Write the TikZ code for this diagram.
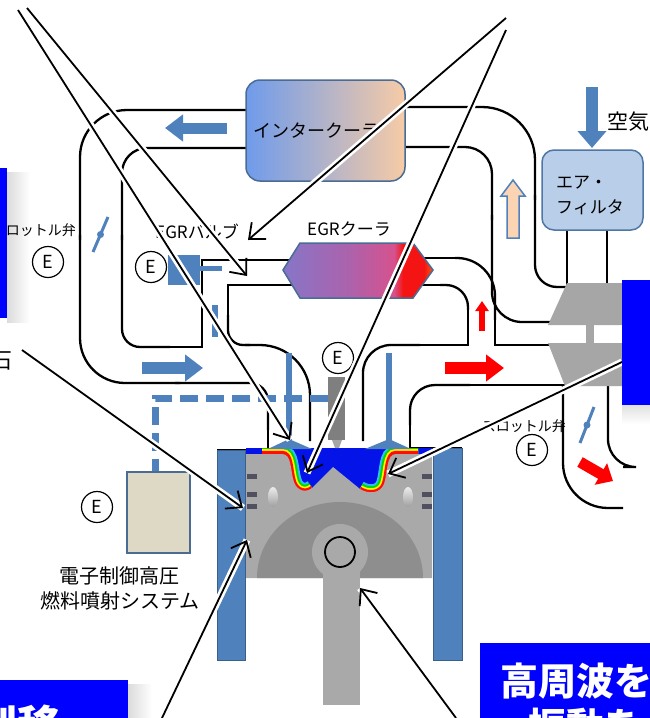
\documentclass[tikz,border=0pt]{standalone}
\usepackage{fontspec}
\setmainfont{Noto Sans CJK JP}
\usetikzlibrary{arrows.meta}
\definecolor{flowblue}{HTML}{4F81BD}
\definecolor{wallblue}{HTML}{3B5F8C}
\definecolor{boxblue}{HTML}{0000FF}
\definecolor{boxedge}{HTML}{4A6C94}
\definecolor{icleft}{HTML}{6F9BEB}
\definecolor{icright}{HTML}{F7CBA6}
\definecolor{filterfill}{HTML}{B9CEE8}
\definecolor{filteredge}{HTML}{4F77A6}
\definecolor{turbogray}{HTML}{A6A6A6}
\definecolor{pistongray}{HTML}{A9A9A9}
\definecolor{diskgray}{HTML}{8E8E8E}
\definecolor{injgray}{HTML}{7F7F7F}
\definecolor{ringgray}{HTML}{505060}
\definecolor{fuelfill}{HTML}{DDD9C4}
\definecolor{peach}{HTML}{FBD4B4}
\definecolor{chamber}{HTML}{0414E8}
\definecolor{egrA}{HTML}{8676C8}
\definecolor{egrB}{HTML}{AC62AC}
\definecolor{egrC}{HTML}{D6528E}
\definecolor{egrD}{HTML}{F41414}
\definecolor{egrE}{HTML}{FF5A10}
\pgfdeclarehorizontalshading{egrshade}{100bp}{color(0bp)=(egrA); color(25bp)=(egrA); color(47bp)=(egrB); color(62bp)=(egrC); color(65bp)=(egrD); color(72bp)=(egrD); color(75bp)=(egrE); color(100bp)=(egrE)}
\begin{document}
\begin{tikzpicture}[x=1pt,y=-1pt,
  pipe/.style={line width=2.3pt},
  note/.style={line width=1.8pt, -{Straight Barb[length=13pt,width=22pt,line width=1.8pt]}, preaction={draw=white, line width=7pt, -}},
  enode/.style={circle, draw, line width=1.2pt, minimum size=31pt, inner sep=0pt, font=\fontsize{18}{18}\selectfont},
  lbl/.style={inner sep=0pt, font=\fontsize{17}{20}\selectfont},
  bigw/.style={inner sep=0pt, text=white, font=\fontsize{38}{40}\selectfont\bfseries},
]
\useasboundingbox (0,0) rectangle (650,718);
\clip (0,0) rectangle (650,718);
\fill[white] (0,0) rectangle (650,718);

% ---------- soft shadows of the highlighted panels
\shade[left color=black!14, right color=white] (7,172) rectangle (30,322);
\shade[top color=black!12, bottom color=white] (622,405) rectangle (650,424);
\shade[left color=black!14, right color=white] (128,684) rectangle (152,718);

% ---------- intake loop (intercooler -> throttle -> manifold)
\draw[pipe, rounded corners=47pt] (246,110) -- (80,110) -- (80,240);
\draw[pipe, rounded corners=45pt] (80,235) -- (80,383) -- (180,383);
\draw[pipe, rounded corners=18pt] (175,383) -- (268,383) -- (268,430);
\draw[pipe] (268,425) -- (268,450) -- (217,450);
\draw[pipe, rounded corners=25pt] (246,148) -- (122,148) -- (122,240);
\draw[pipe, rounded corners=18pt] (122,235) -- (122,347) -- (170,347);
\draw[pipe] (165,347) -- (202,347) -- (202,260) -- (292,260);
% EGR return into the intake port
\draw[pipe] (292,285) -- (228,285) -- (228,320);
\draw[pipe, rounded corners=15pt] (228,315) -- (228,345) -- (250,345);
\draw[pipe, rounded corners=50pt] (245,345) -- (310,345) -- (310,441);

% ---------- exhaust side
\draw[pipe, rounded corners=28pt] (363,441) -- (363,345) -- (420,345);
\draw[pipe] (415,345) -- (468,345) -- (468,305);
\draw[pipe, rounded corners=22pt] (468,310) -- (468,285) -- (440,285);
\draw[pipe] (445,285) -- (420,285);
\draw[pipe] (422,258) -- (460,258);
\draw[pipe, rounded corners=38pt] (455,258) -- (495,258) -- (495,320);
\draw[pipe] (495,315) -- (495,345) -- (552,345);
\draw[pipe] (462,448) -- (410,448) -- (410,420);
\draw[pipe, rounded corners=25pt] (410,425) -- (410,385) -- (470,385);
\draw[pipe] (465,385) -- (566,385);
\draw[pipe, rounded corners=45pt] (563,385) -- (563,508) -- (623,508);
\draw[pipe, rounded corners=28pt] (608,385) -- (608,467) -- (623,467);

% ---------- compressor -> intercooler
\draw[pipe, rounded corners=53pt] (405,107) -- (535,107) -- (535,200);
\draw[pipe, rounded corners=22pt] (535,195) -- (535,287) -- (566,287);
\draw[pipe, rounded corners=27pt] (405,147) -- (492,147) -- (492,220);
\draw[pipe, rounded corners=30pt] (492,215) -- (492,322) -- (552,322);
\draw[pipe] (567,230) -- (567,285);
\draw[pipe] (607,230) -- (607,285);

% ---------- turbocharger
\fill[turbogray] (567,283) -- (625,283) -- (645,325) -- (548,325) -- cycle;
\fill[turbogray] (586,324) rectangle (594,344);
\fill[turbogray] (548,343) -- (645,343) -- (625,386) -- (565,386) -- cycle;

% ---------- coolers and filter
\node[draw=boxedge, line width=1.5pt, rounded corners=14pt, left color=icleft, right color=icright, minimum width=159pt, minimum height=101pt] (ic) at (325.5,130.5) {};
\node[draw=filteredge, fill=filterfill, line width=1.5pt, rounded corners=12pt, minimum width=101pt, minimum height=80pt] (filter) at (592.5,190) {};
\shadedraw[shading=egrshade, draw=boxedge, line width=1.5pt] (283,270) -- (300,243) -- (413,243) -- (433,270) -- (413,298) -- (300,298) -- cycle;

% ---------- EGR valve
\fill[flowblue] (168,255) rectangle (200,285);
\fill[flowblue] (200,266) rectangle (222,271);
\fill[flowblue] (212,305) rectangle (218,337);

% ---------- throttle valves
\draw[flowblue, line width=3pt] (93,252) -- (108,217);
\fill[flowblue] (100.5,234.5) circle[radius=3.5pt];
\draw[flowblue, line width=3pt] (580,443) -- (594,407);
\fill[flowblue] (587,425) circle[radius=3.5pt];

% ---------- cylinder
\filldraw[fill=flowblue, draw=wallblue, line width=1pt] (217,450) rectangle (245,660);
\filldraw[fill=flowblue, draw=wallblue, line width=1pt] (433,448) rectangle (462,660);
\fill[chamber] (246,448) rectangle (432,500);
\begin{scope}
  \clip (246,448) rectangle (432,500);
  \foreach \w/\c in {16/cyan!80!white, 12/green!85!black, 8/yellow, 4.5/red!90!orange}{
    \draw[line width=\w pt, \c] (262,453) -- (282,453) .. controls (292,453) and (290,470) .. (294,482) .. controls (297,491) and (306,493) .. (312,488);
    \draw[line width=\w pt, \c] (360,489) .. controls (368,494) and (380,494) .. (384,484) .. controls (388,472) and (386,453) .. (396,453) -- (418,453);
  }
\end{scope}
\fill[pistongray] (246,454) -- (282,454) .. controls (292,454) and (290,470) .. (294,482) .. controls (297,491) and (306,493) .. (312,488) -- (333,467) -- (360,489) .. controls (368,494) and (380,494) .. (384,484) .. controls (388,472) and (386,454) .. (396,454) -- (432,454) -- (432,578) -- (246,578) -- cycle;
\fill[diskgray] (257,578) arc[start angle=180, end angle=0, x radius=83pt, y radius=76pt] -- cycle;
\foreach \y in {474,492,504}{
  \fill[ringgray] (247,\y) rectangle (257,\y+5);
  \fill[ringgray] (422,\y) rectangle (432,\y+5);
}
\shade[top color=gray!15, bottom color=gray!75] (273,497) ellipse[x radius=5pt, y radius=10pt];
\shade[top color=gray!15, bottom color=gray!75] (408,497) ellipse[x radius=5pt, y radius=10pt];
\fill[pistongray] (340,552) circle[radius=28pt];
\fill[pistongray] (323,552) rectangle (360,705);
\draw[line width=1.8pt] (340,552) circle[radius=15pt];

% ---------- valves and injector
\fill[flowblue] (286,353) rectangle (292,442);
\fill[flowblue] (268,449) -- (289,439) -- (312,449) -- cycle;
\fill[flowblue] (386,353) rectangle (392,442);
\fill[flowblue] (365,449) -- (389,439) -- (411,449) -- cycle;
\fill[injgray] (328,377) rectangle (345,440);
\fill[turbogray] (332,440) -- (342,440) -- (339,448) -- (335,448) -- cycle;

% ---------- fuel system
\draw[flowblue, line width=7pt, dash pattern=on 18pt off 8pt] (328,398) -- (155,398) -- (155,472);
\node[draw=boxedge, fill=fuelfill, line width=1.5pt, minimum width=63pt, minimum height=81pt, inner sep=0pt] (fuel) at (158.5,512.5) {};

% ---------- flow arrows
\draw[flowblue, line width=11pt, -{Triangle[length=18pt,width=26pt]}] (227,128) -- (165,128);
\draw[flowblue, line width=12pt, -{Triangle[length=18pt,width=26pt]}] (142,368) -- (203,368);
\draw[flowblue, line width=12pt, -{Triangle[length=17pt,width=28pt]}] (592,87) -- (592,148);
\filldraw[fill=peach, draw=flowblue, line width=1.5pt] (507,238) -- (519,238) -- (519,196) -- (525,196) -- (513,180) -- (501,196) -- (507,196) -- cycle;
\draw[red, line width=6pt, -{Triangle[length=10pt,width=13pt]}] (482,331) -- (482,301);
\draw[red, line width=12pt, -{Triangle[length=18pt,width=26pt]}] (445,368) -- (504,368);
\draw[red, line width=11pt, -{Triangle[length=14pt,width=24pt]}] (580,462) -- (613,481);

% ---------- labels
\node[lbl, font=\fontsize{18}{20}\selectfont] (ictext) at (316,131) {インタークーラ};
\node[lbl, anchor=west, align=left, font=\fontsize{17}{25}\selectfont] (filtertext) at (556,195) {エア・\\フィルタ};
\node[lbl, anchor=west, font=\fontsize{21}{24}\selectfont] (airtext) at (607,122) {空気};
\node[lbl] (egrctext) at (349,229) {EGRクーラ};
\node[lbl] (egrvtext) at (197,232) {EGRバルブ};
\node[lbl, anchor=east, font=\fontsize{14}{16}\selectfont] (thltext) at (76,230) {スロットル弁};
\node[lbl, anchor=east, font=\fontsize{14}{16}\selectfont] (thrtext) at (566,426) {スロットル弁};
\node[lbl, align=center, font=\fontsize{20}{25}\selectfont] (fueltext) at (120,588) {電子制御高圧\\燃料噴射システム};
\node[lbl, anchor=west, font=\fontsize{22}{24}\selectfont] (leftword) at (-10,361) {石};
\node[enode] (e1) at (48,262) {E};
\node[enode] (e2) at (151,267) {E};
\node[enode] (e3) at (338,358) {E};
\node[enode] (e4) at (97,507) {E};
\node[enode] (e5) at (532,450) {E};

% ---------- callout arrows
\coordinate (s1) at (27,8);
\coordinate (s2) at (18,10);
\coordinate (s3) at (506,18);
\coordinate (s4) at (506,30);
\coordinate (s5) at (622,362);
\coordinate (s6) at (22,350);
\coordinate (s7) at (162,718);
\coordinate (s8) at (456,718);
\coordinate (egrvalve1) at (247,276);
\coordinate (egrvalve2) at (248,240);
\coordinate (intakevalve) at (290,440);
\coordinate (bowl) at (307,473);
\coordinate (bowlrim) at (388,474);
\coordinate (rings) at (243,508);
\coordinate (liner) at (247,540);
\coordinate (conrod) at (360,588);
\draw[note] (s1) -- (egrvalve1);
\draw[note] (s2) -- (intakevalve);
\draw[note] (s3) -- (egrvalve2);
\draw[note] (s4) -- (bowl);
\draw[note] (s5) -- (bowlrim);
\draw[note] (s6) -- (rings);
\draw[note] (s7) -- (liner);
\draw[note] (s8) -- (conrod);

% ---------- highlighted panels
\fill[boxblue] (-10,168) rectangle (7,318);
\fill[boxblue] (622,280) rectangle (660,405);
\fill[boxblue] (-10,680) rectangle (128,730);
\node[bigw, anchor=west, font=\fontsize{44}{46}\selectfont\bfseries] (leftpanel) at (-27,726) {制移};
\fill[boxblue] (480,643) rectangle (660,730);
\node[bigw, anchor=west] (hf1) at (500,681) {高周波を};
\node[bigw, anchor=west] (hf2) at (528,726) {振動を};
\end{tikzpicture}
\end{document}
